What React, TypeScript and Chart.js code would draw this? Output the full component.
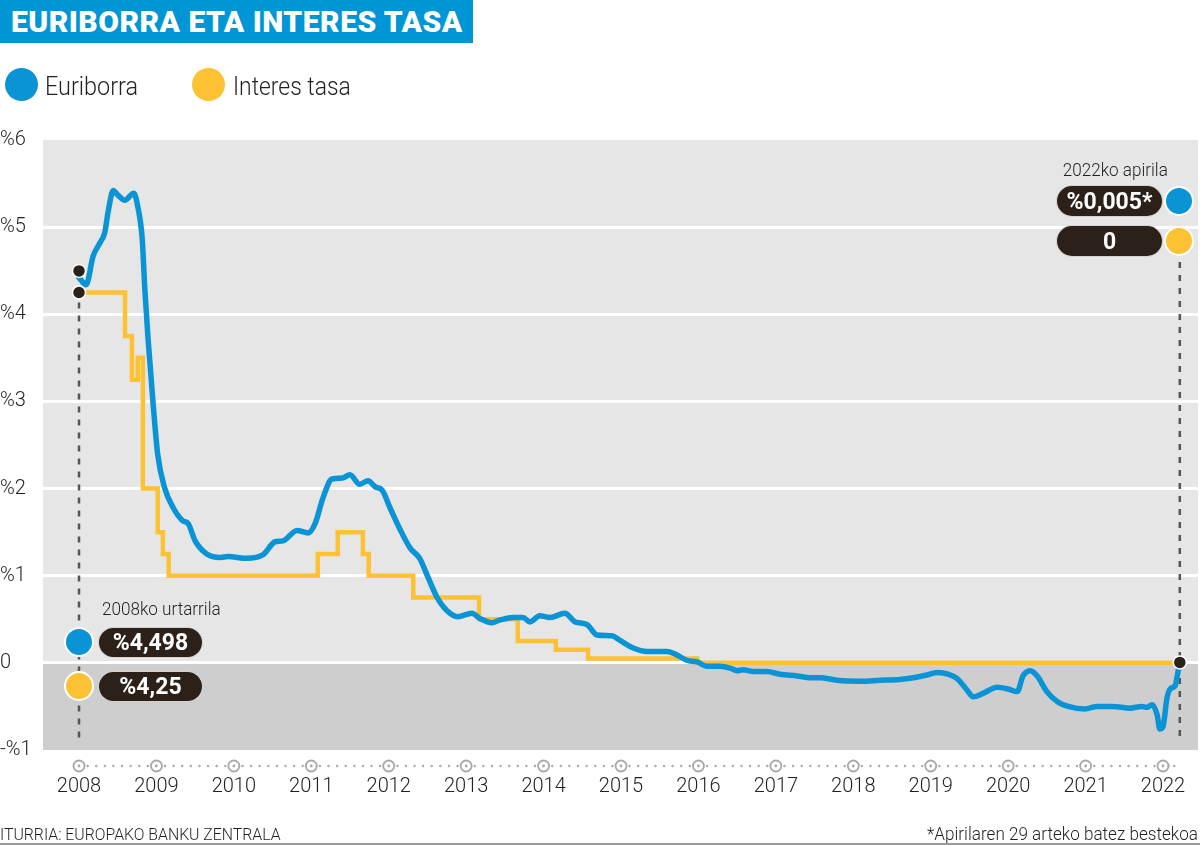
import React, { useEffect, useRef } from "react";
import { Chart, registerables } from "chart.js";

Chart.register(...registerables);

// ---------- data (x = months since January 2008) ----------
const yearLabels = ["2008", "2009", "2010", "2011", "2012", "2013", "2014", "2015", "2016", "2017", "2018", "2019", "2020", "2021", "2022"];
const yearTickMonths = [0, 12, 24, 36, 48, 60, 72, 84, 96, 108, 120, 132, 144, 156, 168];
const yTickValues = [-1, 0, 1, 2, 3, 4, 5, 6];

const euriborMonths = [
  0, 1.1, 2.2, 3.25, 4.0, 4.5, 5.3, 6.0, 7.1, 8.5,
  9.1, 9.8, 10.2, 10.7, 11.5, 12.2, 13.3, 14.6, 16.1, 16.9,
  18.0, 19.8, 21.9, 23.1, 26.0, 28.5, 30.4, 31.6, 33.8, 35.5,
  36.6, 37.8, 39.2, 40.8, 42.0, 43.5, 44.8, 45.9, 47.0, 48.2,
  49.7, 51.3, 52.8, 54.1, 55.5, 57.0, 58.7, 60.9, 62.1, 64.0,
  65.2, 67.3, 68.8, 69.9, 71.4, 73.0, 75.3, 76.9, 78.7, 80.3,
  82.6, 83.8, 85.9, 88.0, 91.1, 92.4, 94.2, 95.8, 97.3, 99.3,
  100.9, 102.0, 102.9, 104.5, 106.6, 108.6, 111.3, 113.3, 114.8, 117.5,
  121.0, 124.1, 127.2, 129.3, 131.4, 133.0, 134.7, 136.1, 137.6, 138.6,
  140.1, 142.3, 144.0, 145.4, 146.3, 147.4, 148.5, 150.0, 151.7, 153.3,
  155.9, 157.8, 160.2, 162.9, 164.7, 165.5, 166.3, 167.1, 167.5, 168.0,
  168.6, 169.1, 169.9, 170.2, 170.6,
];
const euriborValues = [
  4.42, 4.34, 4.67, 4.82, 4.94, 5.17, 5.42, 5.37, 5.31, 5.39,
  5.24, 4.86, 4.29, 3.72, 2.96, 2.39, 2.0, 1.78, 1.63, 1.6,
  1.4, 1.25, 1.21, 1.22, 1.2, 1.24, 1.39, 1.4, 1.52, 1.49,
  1.6, 1.89, 2.11, 2.12, 2.16, 2.05, 2.09, 2.02, 1.98, 1.78,
  1.54, 1.32, 1.2, 0.98, 0.75, 0.6, 0.53, 0.57, 0.51, 0.46,
  0.49, 0.52, 0.52, 0.47, 0.54, 0.52, 0.57, 0.47, 0.44, 0.32,
  0.31, 0.26, 0.17, 0.13, 0.13, 0.1, 0.03, 0.01, -0.04, -0.04,
  -0.06, -0.09, -0.08, -0.1, -0.1, -0.13, -0.15, -0.17, -0.17, -0.2,
  -0.21, -0.2, -0.19, -0.17, -0.14, -0.11, -0.13, -0.18, -0.31, -0.39,
  -0.35, -0.28, -0.3, -0.33, -0.15, -0.09, -0.15, -0.33, -0.45, -0.5,
  -0.53, -0.5, -0.5, -0.52, -0.5, -0.51, -0.48, -0.6, -0.76, -0.73,
  -0.41, -0.3, -0.26, -0.15, 0.005,
];

const rateMonths = [0, 7.13, 8.2, 9.1, 9.9, 12.2, 13.0, 13.9, 37.0, 40.1, 44.0, 44.9, 51.8, 62.0, 68.0, 73.9, 78.9, 95.8, 170.6];
const rateValues = [4.25, 3.75, 3.25, 3.5, 2.0, 1.5, 1.25, 1.0, 1.25, 1.5, 1.25, 1.0, 0.75, 0.5, 0.25, 0.15, 0.05, 0.0, 0.0];

const startMonth = 0;
const endMonth = 170.6;
const startEuribor = 4.498;
const startRate = 4.25;
const endEuribor = 0.005;

const xMin = -5.58;
const xMax = 173.42;

// ---------- styles ----------
const FONT = "Roboto, 'Open Sans', sans-serif";
const BLUE = "#0a93d5";
const YELLOW = "#fdc134";
const DARK = "#2b2119";
const TEXT = "#231f20";

const fmtY = (v: number) => (v === 0 ? "0" : v < 0 ? "-%" + Math.abs(v) : "%" + v);

const bandsPlugin = {
  id: "bands",
  beforeDraw(chart: any) {
    const { ctx, chartArea: a, scales } = chart;
    const zero = scales.y.getPixelForValue(0);
    ctx.save();
    ctx.fillStyle = "#e6e6e6";
    ctx.fillRect(a.left, a.top, a.right - a.left, zero - a.top);
    ctx.fillStyle = "#cecece";
    ctx.fillRect(a.left, zero, a.right - a.left, a.bottom - zero);
    ctx.restore();
  },
};

const axisMarkersPlugin = {
  id: "axisMarkers",
  afterDraw(chart: any) {
    const { ctx, chartArea: a, scales } = chart;
    const x = scales.x;
    const yy = a.bottom + 16;
    ctx.save();
    ctx.fillStyle = "#a8a8a8";
    for (let i = 0; i < yearTickMonths.length; i++) {
      const p0 = x.getPixelForValue(yearTickMonths[i]);
      const p1 = i < yearTickMonths.length - 1 ? x.getPixelForValue(yearTickMonths[i + 1]) : x.getPixelForValue(endMonth);
      const n = i < yearTickMonths.length - 1 ? 9 : 3;
      const step = (p1 - p0) / n;
      for (let j = 1; j < n; j++) {
        ctx.beginPath();
        ctx.arc(p0 + j * step, yy, 1.2, 0, Math.PI * 2);
        ctx.fill();
      }
    }
    ctx.strokeStyle = "#a8a8a8";
    ctx.lineWidth = 1.8;
    for (const m of yearTickMonths) {
      const px = x.getPixelForValue(m);
      ctx.beginPath();
      ctx.arc(px, yy, 5.5, 0, Math.PI * 2);
      ctx.stroke();
      ctx.beginPath();
      ctx.arc(px, yy, 1.4, 0, Math.PI * 2);
      ctx.fill();
    }
    ctx.restore();
  },
};

const dashedPlugin = {
  id: "dashedRefs",
  beforeDatasetsDraw(chart: any) {
    const { ctx, chartArea: a, scales } = chart;
    ctx.save();
    ctx.strokeStyle = "#555555";
    ctx.lineWidth = 2.5;
    ctx.setLineDash([6, 7]);
    const xs = scales.x.getPixelForValue(startMonth);
    ctx.beginPath();
    ctx.moveTo(xs, scales.y.getPixelForValue(startRate) + 10);
    ctx.lineTo(xs, a.bottom - 8);
    ctx.stroke();
    const xe = scales.x.getPixelForValue(endMonth);
    ctx.beginPath();
    ctx.moveTo(xe, 262);
    ctx.lineTo(xe, a.bottom - 8);
    ctx.stroke();
    ctx.restore();
  },
  afterDatasetsDraw(chart: any) {
    const { ctx, scales } = chart;
    const dots = [
      [startMonth, startEuribor],
      [startMonth, startRate],
      [endMonth, endEuribor],
    ];
    ctx.save();
    for (const [m, v] of dots) {
      ctx.beginPath();
      ctx.arc(scales.x.getPixelForValue(m), scales.y.getPixelForValue(v), 6.5, 0, Math.PI * 2);
      ctx.fillStyle = DARK;
      ctx.fill();
      ctx.lineWidth = 1.5;
      ctx.strokeStyle = "#ffffff";
      ctx.stroke();
    }
    ctx.restore();
  },
};

function Txt(props: any) {
  const { x, baseline, size, weight = 300, scale = 0.88, align = "left", color = TEXT, children, spacing = 0 } = props;
  const style: any = {
    position: "absolute",
    top: baseline - 0.842 * size,
    fontFamily: FONT,
    fontSize: size,
    fontWeight: weight,
    lineHeight: size + "px",
    whiteSpace: "nowrap",
    color,
    letterSpacing: spacing,
    transform: `scaleX(${scale})`,
    transformOrigin: align === "left" ? "left center" : "right center",
  };
  if (align === "left") style.left = x;
  else style.right = 1200 - x;
  return <div style={style}>{children}</div>;
}

function Pill(props: any) {
  const { left, top, width, height, children } = props;
  return (
    <div
      style={{
        position: "absolute",
        left,
        top,
        width,
        height,
        boxSizing: "border-box",
        borderRadius: height / 2,
        background: DARK,
        border: "1px solid rgba(255,255,255,0.8)",
        color: "#fff",
        fontFamily: FONT,
        fontWeight: 700,
        fontSize: 23,
        display: "flex",
        alignItems: "center",
        justifyContent: "center",
        lineHeight: 1,
      }}
    >
      {children}
    </div>
  );
}

function Dot(props: any) {
  const { cx, cy, d, color, border = 0 } = props;
  return (
    <div
      style={{
        position: "absolute",
        left: cx - d / 2,
        top: cy - d / 2,
        width: d,
        height: d,
        boxSizing: "border-box",
        borderRadius: "50%",
        background: color,
        border: border ? `${border}px solid #fff` : "none",
      }}
    />
  );
}

export default function App() {
  const ref = useRef<HTMLCanvasElement>(null);

  useEffect(() => {
    document.body.style.margin = "0";
    const tickFont = { family: FONT, size: 20, weight: "300" as any };
    const chart = new Chart(ref.current as HTMLCanvasElement, {
      type: "line",
      data: {
        datasets: [
          {
            label: "Euriborra",
            data: euriborMonths.map((m, i) => ({ x: m, y: euriborValues[i] })),
            borderColor: BLUE,
            borderWidth: 5.5,
            pointRadius: 0,
            cubicInterpolationMode: "monotone",
            borderCapStyle: "round",
            borderJoinStyle: "round",
            order: 0,
          },
          {
            label: "Interes tasa",
            data: rateMonths.map((m, i) => ({ x: m, y: rateValues[i] })),
            borderColor: YELLOW,
            borderWidth: 4.5,
            pointRadius: 0,
            stepped: true,
            borderJoinStyle: "miter",
            order: 1,
          },
        ],
      },
      options: {
        responsive: false,
        animation: false,
        layout: { padding: { left: 0, top: 140, right: 2, bottom: 0 } },
        plugins: { legend: { display: false }, tooltip: { enabled: false } },
        scales: {
          x: {
            type: "linear",
            min: xMin,
            max: xMax,
            afterBuildTicks: (s: any) => {
              s.ticks = yearTickMonths.map((v) => ({ value: v }));
            },
            afterFit: (s: any) => {
              s.height = 95;
              s.paddingLeft = 0;
              s.paddingRight = 0;
            },
            ticks: {
              callback: (_v: any, i: number) => yearLabels[i],
              autoSkip: false,
              maxRotation: 0,
              minRotation: 0,
              padding: 25,
              color: TEXT,
              font: tickFont,
            },
            grid: { display: false, drawTicks: false },
            border: { display: false },
          },
          y: {
            type: "linear",
            min: -1,
            max: 6,
            afterBuildTicks: (s: any) => {
              s.ticks = yTickValues.map((v) => ({ value: v }));
            },
            afterFit: (s: any) => {
              s.width = 43;
              s.paddingTop = 0;
              s.paddingBottom = 0;
            },
            ticks: {
              callback: (v: any) => fmtY(Number(v)),
              crossAlign: "far",
              padding: 0,
              color: TEXT,
              font: tickFont,
            },
            grid: {
              color: (c: any) => (c.tick && (c.tick.value === -1 || c.tick.value === 6) ? "rgba(0,0,0,0)" : "#ffffff"),
              lineWidth: 3,
              drawTicks: false,
            },
            border: { display: false },
          },
        },
      } as any,
      plugins: [bandsPlugin, axisMarkersPlugin, dashedPlugin],
    });
    return () => chart.destroy();
  }, []);

  return (
    <div style={{ position: "relative", width: 1200, height: 845, overflow: "hidden", background: "#fff" }}>
      <canvas ref={ref} width={1200} height={845} style={{ position: "absolute", left: 0, top: 0, width: 1200, height: 845 }} />

      {/* title */}
      <div style={{ position: "absolute", left: 0, top: 0, width: 473, height: 43, background: "#0096d6" }} />
      <Txt x={11} baseline={32} size={30} weight={900} scale={1} spacing={0.5} color="#ffffff">
        EURIBORRA ETA INTERES TASA
      </Txt>

      {/* legend */}
      <Dot cx={21.5} cy={84} d={33} color={BLUE} />
      <Txt x={45} baseline={95} size={26} scale={0.9}>Euriborra</Txt>
      <Dot cx={208.5} cy={84} d={33} color={YELLOW} />
      <Txt x={233} baseline={95} size={26} scale={0.88}>Interes tasa</Txt>

      {/* start annotation */}
      <Txt x={102} baseline={615} size={19} scale={0.9}>2008ko urtarrila</Txt>
      <Dot cx={79} cy={642} d={30} color={BLUE} border={2} />
      <Pill left={98} top={627} width={105} height={31}>%4,498</Pill>
      <Dot cx={79} cy={686} d={30} color={YELLOW} border={2} />
      <Pill left={98} top={671} width={105} height={31}>%4,25</Pill>

      {/* end annotation */}
      <Txt x={1168} baseline={176} size={19} scale={0.9} align="right">2022ko apirila</Txt>
      <Pill left={1056} top={185} width={107} height={32}>%0,005*</Pill>
      <Dot cx={1179} cy={201} d={30} color={BLUE} border={2} />
      <Pill left={1056} top={225} width={107} height={32}>0</Pill>
      <Dot cx={1179} cy={241} d={30} color={YELLOW} border={2} />

      {/* footer */}
      <Txt x={0} baseline={840} size={17} scale={0.93}>ITURRIA: EUROPAKO BANKU ZENTRALA</Txt>
      <Txt x={1198} baseline={840} size={19} scale={0.9} align="right">*Apirilaren 29 arteko batez bestekoa</Txt>
      <div style={{ position: "absolute", left: 0, top: 843, width: 1200, height: 2, background: "#9a9a9a" }} />
    </div>
  );
}
